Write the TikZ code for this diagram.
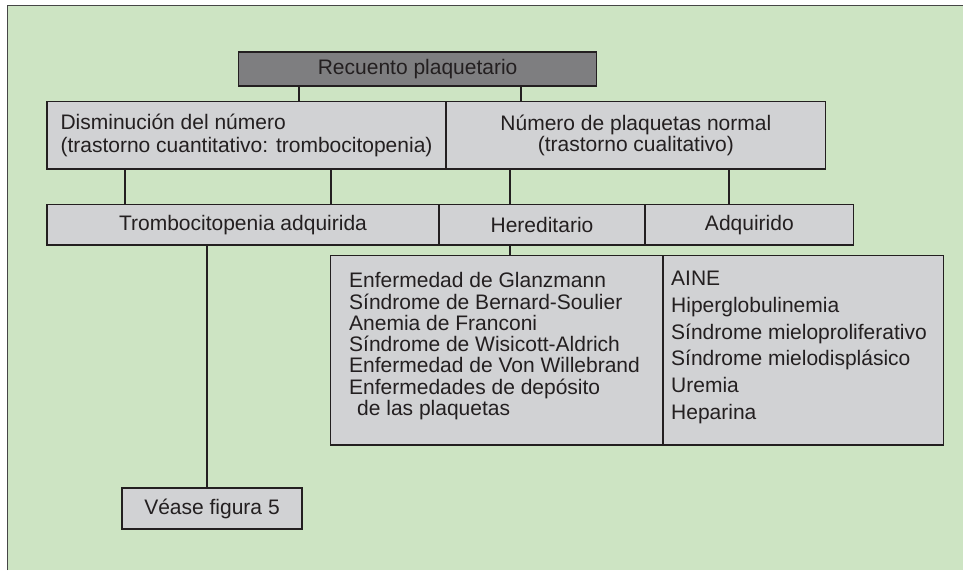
\documentclass[tikz,border=0pt]{standalone}
\usepackage{fontspec}
\setmainfont{Liberation Sans}
\definecolor{bggreen}{RGB}{205,228,195}
\definecolor{boxgray}{RGB}{209,210,212}
\definecolor{darkbox}{RGB}{126,126,128}
\definecolor{linec}{RGB}{35,31,32}
\definecolor{framec}{RGB}{70,70,70}
\newcommand\fsA{\fontsize{21}{23}\selectfont}
\newcommand\fsB{\fontsize{21}{21.3}\selectfont}
\newcommand\fsC{\fontsize{21}{26.7}\selectfont}
\begin{document}
\begin{tikzpicture}[x=1pt,y=-1pt,
  box/.style={draw=linec, fill=boxgray, line width=1.3pt, inner sep=0pt, text=linec, font=\fsA},
  conn/.style={draw=linec, line width=1.3pt},
  listtext/.style={inner sep=0pt, anchor=north west, align=left, text=linec}]
\useasboundingbox (0,0) rectangle (963,570);
\fill[white] (0,0) rectangle (963,570);
\fill[bggreen] (7,5) rectangle (963,570);
\draw[framec, line width=1pt] (7,570) -- (7,5) -- (963,5);

% boxes
\node[box, fill=darkbox, minimum width=357.9pt, minimum height=34pt] (rec) at (417.65,69) {Recuento plaquetario};
\node[box, minimum width=399pt, minimum height=67.3pt, align=left] (dis) at (246.5,135.35) {Disminución del número\\(trastorno cuantitativo: trombocitopenia)};
\node[box, minimum width=379.7pt, minimum height=67.3pt, align=center, font=\fontsize{21}{21.5}\selectfont] (num) at (635.85,135.35) {Número de plaquetas normal\\(trastorno cualitativo)};
\node[box, minimum width=392pt, minimum height=40.3pt] (tro) at (243,224.85) {Trombocitopenia adquirida};
\node[box, minimum width=206pt, minimum height=40.3pt] (her) at (542,224.85) {Hereditario};
\node[box, minimum width=208.7pt, minimum height=40.3pt] (adq) at (749.35,224.85) {Adquirido};
\node[box, minimum width=332.3pt, minimum height=189.3pt] (hl) at (496.85,350.35) {};
\node[box, minimum width=280.7pt, minimum height=189.3pt] (hr) at (803.35,350.35) {};
\node[box, minimum width=180pt, minimum height=41pt] (vea) at (212,508.5) {Véase figura 5};

% list texts
\node[listtext, font=\fsB] (hlt) at (349,272.3) {Enfermedad de Glanzmann\\Síndrome de Bernard-Soulier\\Anemia de Franconi\\Síndrome de Wisicott-Aldrich\\Enfermedad de Von Willebrand\\Enfermedades de depósito\\\hspace*{8pt}de las plaquetas};
\node[listtext, font=\fsC] (hrt) at (671,271) {AINE\\Hiperglobulinemia\\Síndrome mieloproliferativo\\Síndrome mielodisplásico\\Uremia\\Heparina};

% connectors
\coordinate (k1) at (299,0);
\coordinate (k2) at (521,0);
\coordinate (k3) at (125,0);
\coordinate (k4) at (331,0);
\coordinate (k5) at (510,0);
\coordinate (k6) at (729,0);
\coordinate (k7) at (207,0);
\draw[conn] (k1 |- rec.south) -- (k1 |- dis.north);
\draw[conn] (k2 |- rec.south) -- (k2 |- num.north);
\draw[conn] (k3 |- dis.south) -- (k3 |- tro.north);
\draw[conn] (k4 |- dis.south) -- (k4 |- tro.north);
\draw[conn] (k5 |- num.south) -- (k5 |- her.north);
\draw[conn] (k6 |- num.south) -- (k6 |- adq.north);
\draw[conn] (k5 |- her.south) -- (k5 |- hl.north);
\draw[conn] (k7 |- tro.south) -- (k7 |- vea.north);
\end{tikzpicture}
\end{document}
